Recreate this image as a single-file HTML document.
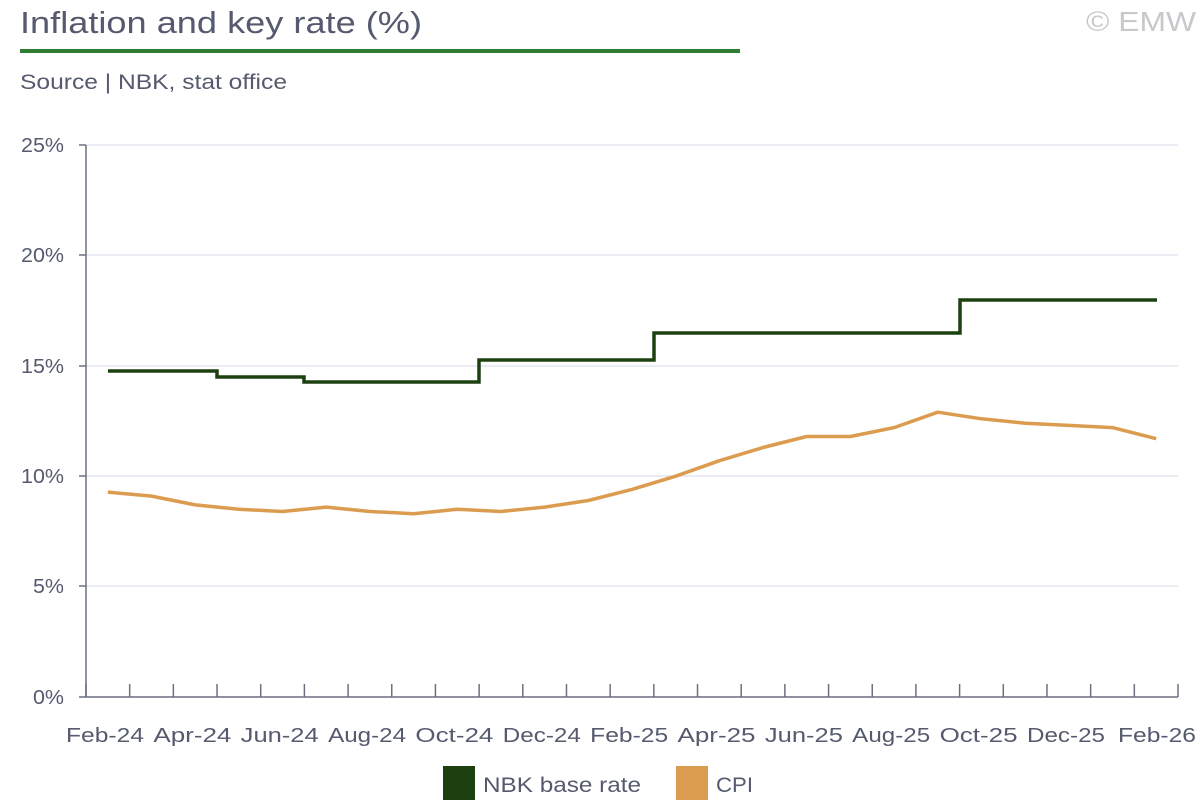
<!DOCTYPE html>
<html><head><meta charset="utf-8"><style>
html,body{margin:0;padding:0;background:#fff;}
svg{display:block;font-family:"Liberation Sans",sans-serif;}
</style></head><body>
<svg width="1200" height="800" viewBox="0 0 1200 800">
<text x="20" y="33" font-size="31" fill="#555a6e" textLength="402" lengthAdjust="spacingAndGlyphs">Inflation and key rate (%)</text>
<text x="1196" y="31" font-size="28" fill="#c8c8cc" text-anchor="end" textLength="110" lengthAdjust="spacingAndGlyphs">© EMW</text>
<rect x="20" y="49" width="720" height="4" fill="#2e7d32"/>
<text x="20" y="89" font-size="21" fill="#555a6e" textLength="267" lengthAdjust="spacingAndGlyphs">Source | NBK, stat office</text>
<g stroke="#d6dde8" stroke-width="1">
<line x1="86" y1="145" x2="1178" y2="145"/>
<line x1="86" y1="255" x2="1178" y2="255"/>
<line x1="86" y1="366" x2="1178" y2="366"/>
<line x1="86" y1="476" x2="1178" y2="476"/>
<line x1="86" y1="586" x2="1178" y2="586"/>
</g>
<g stroke="#6b6f80" stroke-width="1.5">
<line x1="86" y1="145" x2="86" y2="697"/>
<line x1="86" y1="697" x2="1178" y2="697"/>
<line x1="79" y1="145" x2="86" y2="145"/><line x1="79" y1="255" x2="86" y2="255"/>
<line x1="79" y1="366" x2="86" y2="366"/><line x1="79" y1="476" x2="86" y2="476"/>
<line x1="79" y1="586" x2="86" y2="586"/><line x1="79" y1="697" x2="86" y2="697"/>
</g>
<g stroke="#6b6f80" stroke-width="1.5" id="ticks"></g>
<g font-size="20" fill="#555a6e" text-anchor="end">
<text x="64" y="152" textLength="43" lengthAdjust="spacingAndGlyphs">25%</text>
<text x="64" y="262" textLength="43" lengthAdjust="spacingAndGlyphs">20%</text>
<text x="64" y="373" textLength="43" lengthAdjust="spacingAndGlyphs">15%</text>
<text x="64" y="483" textLength="43" lengthAdjust="spacingAndGlyphs">10%</text>
<text x="64" y="593" textLength="31" lengthAdjust="spacingAndGlyphs">5%</text>
<text x="64" y="704" textLength="31" lengthAdjust="spacingAndGlyphs">0%</text>
</g>
<g font-size="20" fill="#555a6e" id="xl"></g>
<polyline fill="none" stroke="#1d4010" stroke-width="3.5" points="108,371 217,371 217,377 304,377 304,382 479,382 479,360 654,360 654,333 960,333 960,300 1157,300"/>
<polyline id="cpi" fill="none" stroke="#dc9c50" stroke-width="3.5" stroke-linejoin="round" points=""/>
<rect x="443" y="766" width="32" height="34" fill="#1d4010"/>
<text x="483" y="792" font-size="21" fill="#555a6e" textLength="158" lengthAdjust="spacingAndGlyphs">NBK base rate</text>
<rect x="676" y="766" width="32" height="34" fill="#dc9c50"/>
<text x="716" y="792" font-size="21" fill="#555a6e" textLength="37" lengthAdjust="spacingAndGlyphs">CPI</text>
</svg>
<script>
var ns="http://www.w3.org/2000/svg",t=document.getElementById("ticks"),xl=document.getElementById("xl");
for(var i=0;i<=25;i++){var x=86+i*43.68;var l=document.createElementNS(ns,"line");l.setAttribute("x1",x);l.setAttribute("x2",x);l.setAttribute("y1",684);l.setAttribute("y2",697);t.appendChild(l);}
var labs=["Feb-24","Apr-24","Jun-24","Aug-24","Oct-24","Dec-24","Feb-25","Apr-25","Jun-25","Aug-25","Oct-25","Dec-25","Feb-26"];
labs.forEach(function(s,k){var c=(k==12)?1157:105+k*87.36;var e=document.createElementNS(ns,"text");e.setAttribute("x",(c-39).toFixed(1));e.setAttribute("y",742);e.setAttribute("textLength",78);e.setAttribute("lengthAdjust","spacingAndGlyphs");e.textContent=s;xl.appendChild(e);});
var v=[9.28,9.1,8.7,8.5,8.4,8.6,8.4,8.3,8.5,8.4,8.6,8.9,9.4,10.0,10.7,11.3,11.8,11.8,12.2,12.9,12.6,12.4,12.3,12.2,11.7];
document.getElementById("cpi").setAttribute("points",v.map(function(a,i){return (86+(i+0.5)*43.68).toFixed(1)+","+(697-a*22.08).toFixed(1)}).join(" "));
</script>
</body></html>
